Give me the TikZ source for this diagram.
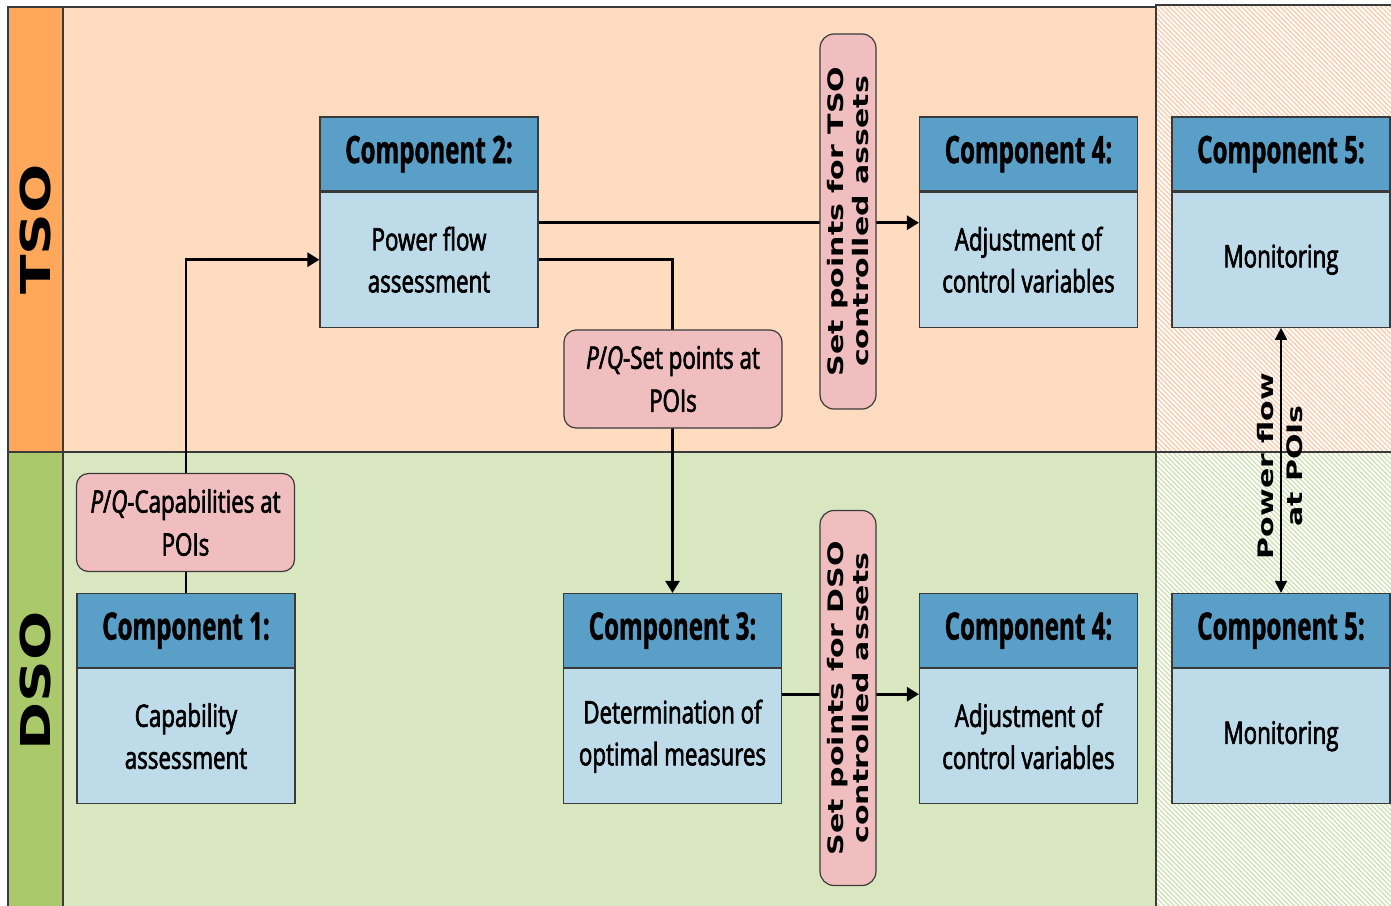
\documentclass[tikz,border=0pt]{standalone}
\usepackage{fontspec}
\usetikzlibrary{arrows.meta,patterns.meta,calc}
\newfontfamily\boxfont[FakeStretch=0.72,FakeBold=2]{Open Sans}
\newfontfamily\headfont[FakeStretch=0.635,FakeBold=1]{Open Sans}
\newfontfamily\lblfont{DejaVu Sans}

\definecolor{tsoHead}{HTML}{FFA75A}
\definecolor{tsoBody}{HTML}{FFDCBF}
\definecolor{dsoHead}{HTML}{A9C96B}
\definecolor{dsoBody}{HTML}{D9E7C0}
\definecolor{hatchT}{HTML}{FFC6A2}
\definecolor{hatchD}{HTML}{CCE0AC}
\definecolor{compHead}{HTML}{5A9FC7}
\definecolor{compBody}{HTML}{BEDBE9}
\definecolor{noteFill}{HTML}{F0BEBF}
\definecolor{rim}{HTML}{3A3A3A}

\pgfdeclarelayer{lanes}
\pgfdeclarelayer{wires}
\pgfsetlayers{lanes,wires,main}

\begin{document}
\begin{tikzpicture}[x=0.5pt,y=-0.5pt,
  laneline/.style={draw=rim, line width=0.6pt},
  lanetitle/.style={xscale=0.71, rotate=90, inner sep=0pt,
    font=\lblfont\bfseries\fontsize{29}{34}\selectfont},
  head/.style={draw=rim, line width=0.6pt, fill=compHead, inner sep=0pt,
    minimum width=109pt, minimum height=37pt,
    font=\headfont\bfseries\fontsize{19}{22}\selectfont},
  body/.style={draw=rim, line width=0.6pt, fill=compBody, inner sep=0pt,
    minimum width=109pt, minimum height=67.5pt, anchor=north, align=center,
    font=\boxfont\fontsize{15.5}{21}\selectfont},
  note/.style={draw=rim, line width=0.6pt, fill=noteFill, rounded corners=6pt,
    inner sep=0pt, minimum width=109pt, minimum height=49pt, align=center,
    font=\boxfont\fontsize{15.5}{21.5}\selectfont},
  vnote/.style={draw=rim, line width=0.6pt, fill=noteFill, rounded corners=7pt,
    xscale=0.71, rotate=90, inner sep=0pt, align=center,
    minimum width=187.5pt, minimum height=39.4pt,
    font=\lblfont\bfseries\fontsize{15}{17}\selectfont},
  flowlabel/.style={xscale=0.71, rotate=90, inner sep=0pt, align=center,
    font=\lblfont\bfseries\fontsize{15}{20}\selectfont},
  wire/.style={line width=1.4pt, -{Triangle[length=6pt,width=7pt]}},
  duplex/.style={line width=0.8pt, {Triangle[length=6pt,width=6pt]}-{Triangle[length=6pt,width=6pt]}}
]
\useasboundingbox (0,0) rectangle (1391,905);

% swim lanes
\begin{pgfonlayer}{lanes}
  \fill[tsoBody] (8,7) rectangle (1156,452);
  \fill[tsoHead] (8,7) rectangle (63,452);
  \fill[dsoBody] (8,452) rectangle (1156,915);
  \fill[dsoHead] (8,452) rectangle (63,915);
  \fill[white] (1156,5) rectangle (1400,915);
  \fill[pattern={Lines[angle=-45,distance=1.7pt,line width=0.6pt]}, pattern color=hatchT]
    (1156,5) rectangle (1400,452);
  \fill[pattern={Lines[angle=-45,distance=1.7pt,line width=0.6pt]}, pattern color=hatchD]
    (1156,452) rectangle (1400,915);
  \draw[laneline] (8,915) -- (8,7) -- (1156,7);
  \draw[laneline] (1156,915) -- (1156,5) -- (1400,5);
  \draw[laneline] (63,7) -- (63,915);
  \draw[laneline] (8,452) -- (1400,452);
\end{pgfonlayer}

\node[lanetitle] (tso) at (35.5,229.5) {TSO};
\node[lanetitle] (dso) at (35.5,681) {DSO};

% components
\node[head] (c2h) at (429,154) {Component 2:};
\node[body] (c2b) at (c2h.south) {Power flow\\assessment};

\node[head] (c4th) at (1028.5,154) {Component 4:};
\node[body] (c4tb) at (c4th.south) {Adjustment of\\control variables};

\node[head] (c5th) at (1281,154) {Component 5:};
\node[body] (c5tb) at (c5th.south) {Monitoring};

\node[head] (c1h) at (186,630.5) {Component 1:};
\node[body] (c1b) at (c1h.south) {Capability\\assessment};

\node[head] (c3h) at (672.5,630.5) {Component 3:};
\node[body] (c3b) at (c3h.south) {Determination of\\optimal measures};

\node[head] (c4dh) at (1028.5,630.5) {Component 4:};
\node[body] (c4db) at (c4dh.south) {Adjustment of\\control variables};

\node[head] (c5dh) at (1281,630.5) {Component 5:};
\node[body] (c5db) at (c5dh.south) {Monitoring};

% exchanged information
\node[note] (pqset) at (673,379) {\textit{P}/\textit{Q}-Set points at\\POIs};
\node[note] (pqcap) at (185.5,522.5) {\textit{P}/\textit{Q}-Capabilities at\\POIs};
\node[vnote] (sptso) at (848,221.5) {Set points for TSO\\controlled assets};
\node[vnote] (spdso) at (848,698) {Set points for DSO\\controlled assets};

% information flow
\begin{pgfonlayer}{wires}
  \draw[wire] (c1h.north) |- (c2b.west);
  \draw[wire] (c2b.east) -| (c3h.north);
  \draw[wire] ([yshift=18.5pt]c2b.east) -- ([yshift=18.5pt]c4tb.west);
  \draw[wire] ([yshift=21pt]c3b.east) -- ([yshift=21pt]c4db.west);
  \draw[duplex] (c5tb.south) -- (c5dh.north);
\end{pgfonlayer}
\node[flowlabel] (pf) at (1280,466) {Power flow\\at POIs};
\end{tikzpicture}
\end{document}
